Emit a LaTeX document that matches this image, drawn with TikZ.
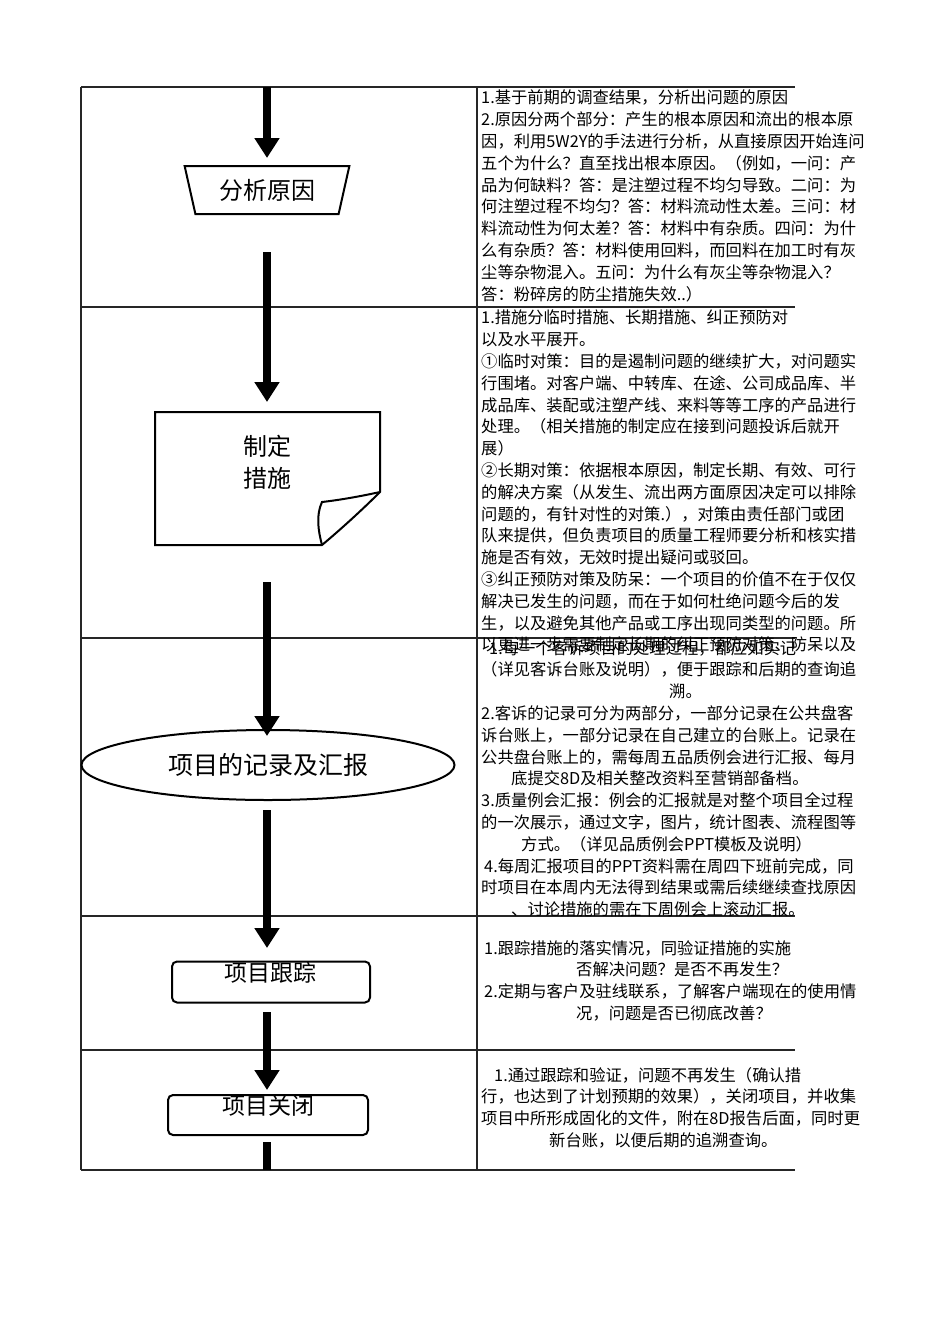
\documentclass[tikz,border=0pt]{standalone}
\usepackage{fontspec}
\setmainfont{Noto Sans CJK SC}
\usetikzlibrary{arrows.meta,shapes.geometric}
\begin{document}
\begin{tikzpicture}[x=1pt,y=-1pt,
 grid/.style={line width=1.2pt,black!85},
 flowarrow/.style={line width=8pt,-{Triangle[width=24pt,length=20pt]}},
 txt/.style={anchor=north west,align=left,inner sep=0pt,font=\fontsize{16.3}{21.8}\selectfont},
 shapebox/.style={draw,line width=2pt,fill=white}]
\useasboundingbox (0,0) rectangle (950,1344);
% grid
\draw[grid] (81,87) -- (81,1170);
\draw[grid] (477,87) -- (477,1170);
\foreach \yy in {87,307,638,916,1050,1170} \draw[grid] (81,\yy) -- (795,\yy);
% shapes
\node[shapebox,trapezium,shape border rotate=180,trapezium stretches=true,minimum width=165pt,minimum height=48pt,trapezium left angle=75,trapezium right angle=75,font=\fontsize{24}{26}\selectfont] (s1) at (267,190) {分析原因};
\path[shapebox] (155,412) -- (380,412) -- (380,492) .. controls (362,510) and (340,530) .. (322,545) -- (155,545) -- cycle;
\draw[line width=2pt] (322,545) .. controls (318,530) and (316,515) .. (322,502) .. controls (340,500) and (362,496) .. (380,492);
\node[font=\fontsize{24}{32}\selectfont,align=center] (s2) at (267,462) {制定\\措施};
\coordinate (s2top) at (267,412);
\coordinate (s2bot) at (267,545);
\node[shapebox,ellipse,minimum width=373pt,minimum height=70pt,font=\fontsize{25}{28}\selectfont] (s3) at (268,765) {项目的记录及汇报};
\node[shapebox,rounded corners=5pt,minimum width=198pt,minimum height=41pt,font=\fontsize{23}{26}\selectfont] (s4) at (271,982) {};
\node[font=\fontsize{23}{26}\selectfont] at (270,973) {项目跟踪};
\node[shapebox,rounded corners=5pt,minimum width=200pt,minimum height=40pt] (s5) at (268,1115) {};
\node[font=\fontsize{23}{26}\selectfont] at (268,1106) {项目关闭};
% arrows
\coordinate (a0) at (267,87);
\coordinate (end) at (267,1170);
\draw[flowarrow] (a0) -- (267,158);
\draw[flowarrow] (267,252) -- (267,402);
\draw[flowarrow] (267,582) -- (267,736);
\draw[flowarrow] (267,810) -- (267,948);
\draw[flowarrow] (267,1012) -- (267,1090);
\draw[line width=8pt] (267,1142) -- (end);
% texts
\node[txt] (t1) at (481,90) {1.基于前期的调查结果，分析出问题的原因\\
2.原因分两个部分：产生的根本原因和流出的根本原\\
因，利用5W2Y的手法进行分析，从直接原因开始连问\\
五个为什么？直至找出根本原因。（例如，一问：产\\
品为何缺料？答：是注塑过程不均匀导致。二问：为\\
何注塑过程不均匀？答：材料流动性太差。三问：材\\
料流动性为何太差？答：材料中有杂质。四问：为什\\
么有杂质？答：材料使用回料，而回料在加工时有灰\\
尘等杂物混入。五问：为什么有灰尘等杂物混入？\\
答：粉碎房的防尘措施失效..）};
\node[txt] (t2) at (481,310) {1.措施分临时措施、长期措施、纠正预防对\\
以及水平展开。\\
①临时对策：目的是遏制问题的继续扩大，对问题实\\
行围堵。对客户端、中转库、在途、公司成品库、半\\
成品库、装配或注塑产线、来料等等工序的产品进行\\
处理。（相关措施的制定应在接到问题投诉后就开\\
展）\\
②长期对策：依据根本原因，制定长期、有效、可行\\
的解决方案（从发生、流出两方面原因决定可以排除\\
问题的，有针对性的对策.），对策由责任部门或团\\
队来提供，但负责项目的质量工程师要分析和核实措\\
施是否有效，无效时提出疑问或驳回。\\
③纠正预防对策及防呆：一个项目的价值不在于仅仅\\
解决已发生的问题，而在于如何杜绝问题今后的发\\
生，以及避免其他产品或工序出现同类型的问题。所\\
以更进一步需要制定长期的纠正预防对策、防呆以及};
\node[txt] (t3) at (481,640) {\hspace*{8pt}1.每一个客诉项目的处理过程，都应如实记\\
（详见客诉台账及说明），便于跟踪和后期的查询追\\
\hspace*{188pt}溯。\\
2.客诉的记录可分为两部分，一部分记录在公共盘客\\
诉台账上，一部分记录在自己建立的台账上。记录在\\
公共盘台账上的，需每周五品质例会进行汇报、每月\\
\hspace*{30pt}底提交8D及相关整改资料至营销部备档。\\
3.质量例会汇报：例会的汇报就是对整个项目全过程\\
的一次展示，通过文字，图片，统计图表、流程图等\\
\hspace*{40pt}方式。（详见品质例会PPT模板及说明）\\
\hspace*{3pt}4.每周汇报项目的PPT资料需在周四下班前完成，同\\
时项目在本周内无法得到结果或需后续继续查找原因\\
\hspace*{30pt}、讨论措施的需在下周例会上滚动汇报。};
\node[txt] (t4) at (484,940) {1.跟踪措施的落实情况，同验证措施的实施\\
\hspace*{92pt}否解决问题？是否不再发生？\\
2.定期与客户及驻线联系，了解客户端现在的使用情\\
\hspace*{92pt}况，问题是否已彻底改善？};
\node[txt] (t5) at (494,1067) {1.通过跟踪和验证，问题不再发生（确认措\\
\hspace*{-13pt}行，也达到了计划预期的效果），关闭项目，并收集\\
\hspace*{-13pt}项目中所形成固化的文件，附在8D报告后面，同时更\\
\hspace*{55pt}新台账，以便后期的追溯查询。};
\end{tikzpicture}
\end{document}
